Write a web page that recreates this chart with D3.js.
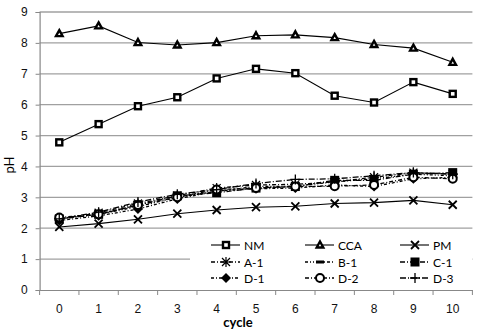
<!DOCTYPE html>
<html lang="en">
<head>
<meta charset="UTF-8">
<title>pH per cycle</title>
<style>
    body { margin: 0; padding: 0; background: #fff; }
    svg { display: block; font-family: Lato, "Open Sans", sans-serif; }
</style>
</head>
<body>
<svg id="chart"></svg>
<script src="https://d3js.org/d3.v7.min.js"></script>
<script>
    var cycles = ["0", "1", "2", "3", "4", "5", "6", "7", "8", "9", "10"];
    var yTicks = [0, 1, 2, 3, 4, 5, 6, 7, 8, 9];

    var nm  = [4.78, 5.37, 5.95, 6.24, 6.85, 7.16, 7.02, 6.29, 6.07, 6.73, 6.35];
    var cca = [8.30, 8.55, 8.01, 7.93, 8.01, 8.23, 8.26, 8.17, 7.95, 7.83, 7.37];
    var pm  = [2.04, 2.15, 2.29, 2.47, 2.59, 2.68, 2.71, 2.80, 2.83, 2.90, 2.76];
    var a1  = [2.30, 2.50, 2.80, 3.05, 3.30, 3.40, 3.42, 3.50, 3.65, 3.80, 3.75];
    var b1  = [2.30, 2.45, 2.70, 3.00, 3.20, 3.35, 3.36, 3.50, 3.60, 3.75, 3.70];
    var c1  = [2.30, 2.45, 2.75, 3.05, 3.15, 3.30, 3.35, 3.55, 3.55, 3.75, 3.80];
    var d1  = [2.25, 2.40, 2.62, 2.95, 3.20, 3.28, 3.30, 3.40, 3.35, 3.60, 3.65];
    var d2  = [2.35, 2.45, 2.75, 3.00, 3.25, 3.30, 3.35, 3.36, 3.40, 3.65, 3.60];
    var d3s = [2.30, 2.52, 2.85, 3.10, 3.25, 3.45, 3.58, 3.60, 3.70, 3.80, 3.75];

    var seriesNames = ["NM", "CCA", "PM", "A-1", "B-1", "C-1", "D-1", "D-2", "D-3"];
    var seriesValues = [nm, cca, pm, a1, b1, c1, d1, d2, d3s];

    // drawing styles per series
    var styles = {
        "NM":  { dash: null, marker: "squareOpen" },
        "CCA": { dash: null, marker: "triangle" },
        "PM":  { dash: null, marker: "x" },
        "A-1": { dash: "4,2,1,2", marker: "star" },
        "B-1": { dash: "3,2,1,2,1,2", marker: "dash" },
        "C-1": { dash: "5,2,1,2", marker: "square" },
        "D-1": { dash: "3,2,1,2", marker: "diamond" },
        "D-2": { dash: "4,2,1,2", marker: "circleOpen" },
        "D-3": { dash: "6,2,1,2", marker: "plus" }
    };

    var W = 478, H = 334;
    var plotLeft = 39.6, plotRight = 472.4, plotTop = 12, plotBottom = 290;

    var svg = d3.select("#chart").attr("width", W).attr("height", H);

    var x = d3.scaleBand().domain(cycles).range([plotLeft, plotRight]);
    var y = d3.scaleLinear().domain([0, 9]).range([plotBottom, plotTop]);

    // gridlines
    svg.append("g")
        .selectAll("line")
        .data(yTicks.slice(1))
        .enter().append("line")
        .attr("x1", plotLeft).attr("x2", plotRight)
        .attr("y1", d => y(d)).attr("y2", d => y(d))
        .attr("stroke", "#a0a0a0").attr("stroke-width", 1.3);

    // y axis
    var yAxis = svg.append("g")
        .attr("transform", "translate(" + plotLeft + ",0)")
        .call(d3.axisLeft(y).tickValues(yTicks).tickSize(4).tickPadding(8));
    yAxis.select(".domain").attr("stroke", "#888").attr("stroke-width", 1.2);
    yAxis.selectAll(".tick line").attr("stroke", "#888");
    yAxis.selectAll("text").attr("font-size", 12).attr("fill", "#111");

    // x axis with ticks at category edges
    var xAxis = svg.append("g")
        .attr("transform", "translate(0," + plotBottom + ")")
        .call(d3.axisBottom(x).tickSize(0).tickPadding(14));
    xAxis.select(".domain").attr("stroke", "#888").attr("stroke-width", 1.2);
    xAxis.selectAll("text").attr("font-size", 12).attr("fill", "#111");
    xAxis.selectAll(".edge")
        .data(cycles.concat(["end"]))
        .enter().append("line")
        .attr("class", "edge")
        .attr("x1", (d, i) => plotLeft + i * x.step())
        .attr("x2", (d, i) => plotLeft + i * x.step())
        .attr("y1", 0).attr("y2", 5)
        .attr("stroke", "#888");

    svg.append("text")
        .attr("x", 238).attr("y", 327)
        .attr("text-anchor", "middle")
        .attr("font-size", 13).attr("font-weight", "bold")
        .text("cycle");

    svg.append("text")
        .attr("transform", "translate(14,165) rotate(-90)")
        .attr("text-anchor", "middle")
        .attr("font-size", 13)
        .text("pH");

    function drawMarker(g, type) {
        if (type === "squareOpen") {
            g.append("rect").attr("x", -3).attr("y", -3).attr("width", 6).attr("height", 6)
                .attr("fill", "#fff").attr("stroke", "#000").attr("stroke-width", 2.4);
        } else if (type === "square") {
            g.append("rect").attr("x", -4.5).attr("y", -4.5).attr("width", 9).attr("height", 9).attr("fill", "#000");
        } else if (type === "triangle") {
            g.append("path").attr("d", "M0,-3.5L3.3,2.5L-3.3,2.5Z")
                .attr("fill", "#fff").attr("stroke", "#000").attr("stroke-width", 2.4)
                .attr("stroke-linejoin", "miter");
        } else if (type === "diamond") {
            g.append("path").attr("d", "M0,-5L5,0L0,5L-5,0Z").attr("fill", "#000");
        } else if (type === "circleOpen") {
            g.append("circle").attr("r", 4).attr("fill", "#fff").attr("stroke", "#000").attr("stroke-width", 2);
        } else if (type === "x") {
            g.append("path").attr("d", "M-4,-4L4,4M-4,4L4,-4").attr("stroke", "#000").attr("stroke-width", 1.8);
        } else if (type === "plus") {
            g.append("path").attr("d", "M-5,0L5,0M0,-5L0,5").attr("stroke", "#000").attr("stroke-width", 1.3);
        } else if (type === "star") {
            g.append("path").attr("d", "M-4,-4L4,4M-4,4L4,-4M-5,0L5,0M0,-5L0,5").attr("stroke", "#000").attr("stroke-width", 1.2);
        } else if (type === "dash") {
            g.append("rect").attr("x", -4).attr("y", -1.5).attr("width", 8).attr("height", 3).attr("fill", "#000");
        }
    }

    var line = d3.line()
        .x((d, i) => x(cycles[i]) + x.bandwidth() / 2)
        .y(d => y(d));

    // draw cluster series first, then the solid ones on top
    var order = [3, 4, 5, 6, 7, 8, 2, 0, 1];
    order.forEach(function (k) {
        var name = seriesNames[k];
        var st = styles[name];
        var g = svg.append("g");
        g.append("path")
            .attr("d", line(seriesValues[k]))
            .attr("fill", "none")
            .attr("stroke", "#000")
            .attr("stroke-width", st.dash ? 1.3 : 1.1)
            .attr("stroke-dasharray", st.dash);
        seriesValues[k].forEach(function (v, i) {
            var mg = g.append("g")
                .attr("transform", "translate(" + (x(cycles[i]) + x.bandwidth() / 2) + "," + y(v) + ")");
            drawMarker(mg, st.marker);
        });
    });

    // legend
    var legend = svg.append("g");
    legend.append("rect")
        .attr("x", 190).attr("y", 236).attr("width", 282).attr("height", 51)
        .attr("fill", "#fff");
    var colX = [211, 305, 400];
    var rowY = [245, 262, 278];
    seriesNames.forEach(function (name, i) {
        var cx = colX[i % 3], cy = rowY[Math.floor(i / 3)];
        var st = styles[name];
        var item = legend.append("g").attr("transform", "translate(" + cx + "," + cy + ")");
        item.append("line")
            .attr("x1", 0).attr("x2", 29).attr("y1", 0).attr("y2", 0)
            .attr("stroke", "#000").attr("stroke-width", st.dash ? 1.3 : 1.1)
            .attr("stroke-dasharray", st.dash);
        drawMarker(item.append("g").attr("transform", "translate(15,0)"), st.marker);
        item.append("text")
            .attr("x", 33).attr("y", 4.5)
            .attr("font-size", 12)
            .text(name);
    });
</script>
</body>
</html>
